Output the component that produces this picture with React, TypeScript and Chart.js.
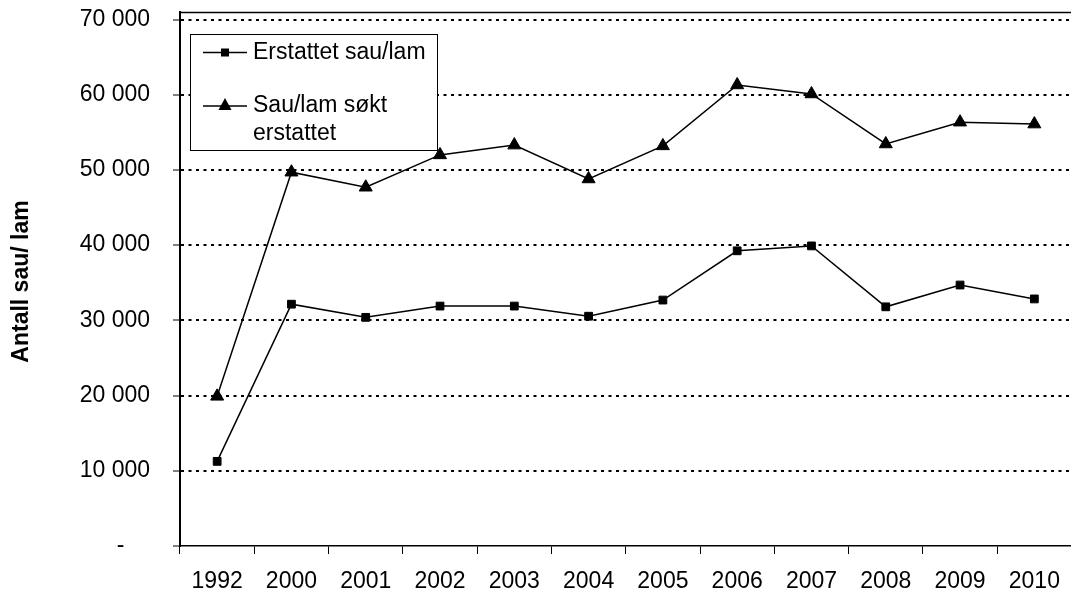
import React, { useEffect, useRef } from "react";
import { Chart, registerables } from "chart.js";

Chart.register(...registerables);

const years = ["1992", "2000", "2001", "2002", "2003", "2004", "2005", "2006", "2007", "2008", "2009", "2010"];
const erstattet = [11250, 32150, 30400, 31900, 31900, 30550, 32700, 39250, 39900, 31800, 34700, 32850];
const soktErstattet = [19900, 49700, 47700, 52000, 53300, 48800, 53200, 61300, 60100, 53450, 56350, 56100];
const seriesNames = ["Erstattet sau/lam", "Sau/lam søkt erstattet"];
const legendLines = [["Erstattet sau/lam"], ["Sau/lam søkt", "erstattet"]];
const yTickValues = [0, 10000, 20000, 30000, 40000, 50000, 60000, 70000];
const yTitle = "Antall sau/ lam";

const FONT = '"Liberation Sans", Arial, Helvetica, sans-serif';

function fmt(v: number): string {
  if (v === 0) return "-    ";
  return String(v).replace(/\B(?=(\d{3})+(?!\d))/g, " ");
}

function zeroPadding(s: any) {
  s.paddingTop = 0;
  s.paddingBottom = 0;
  s.paddingLeft = 0;
  s.paddingRight = 0;
}

const overlayPlugin = {
  id: "overlay",
  afterDraw(chart: any) {
    const ctx = chart.ctx;
    const area = chart.chartArea;
    ctx.save();
    // top frame line
    ctx.strokeStyle = "#000";
    ctx.lineWidth = 1.5;
    ctx.beginPath();
    ctx.moveTo(area.left, area.top + 0.5);
    ctx.lineTo(chart.width, area.top + 0.5);
    ctx.stroke();

    // y title
    ctx.save();
    ctx.translate(22, 281.5);
    ctx.rotate(-Math.PI / 2);
    ctx.font = `bold 23px ${FONT}`;
    ctx.fillStyle = "#000";
    ctx.textAlign = "center";
    ctx.textBaseline = "middle";
    ctx.fillText(yTitle, 0, 0);
    ctx.restore();

    // legend
    const bx = 190.5, by = 34.5, bw = 247, bh = 116;
    ctx.fillStyle = "#fff";
    ctx.fillRect(bx, by, bw, bh);
    ctx.strokeStyle = "#000";
    ctx.lineWidth = 1;
    ctx.strokeRect(bx, by, bw, bh);
    const rows = [52.5, 106];
    ctx.font = `23px ${FONT}`;
    ctx.textAlign = "left";
    ctx.textBaseline = "middle";
    rows.forEach((ry, i) => {
      ctx.strokeStyle = "#000";
      ctx.lineWidth = 1.5;
      ctx.beginPath();
      ctx.moveTo(203, ry);
      ctx.lineTo(247, ry);
      ctx.stroke();
      ctx.fillStyle = "#000";
      if (i === 0) {
        ctx.fillRect(221, ry - 4, 8, 8);
      } else {
        ctx.beginPath();
        ctx.moveTo(225, ry - 8);
        ctx.lineTo(231.5, ry + 4);
        ctx.lineTo(218.5, ry + 4);
        ctx.closePath();
        ctx.fill();
      }
      legendLines[i].forEach((t, j) => {
        ctx.fillText(t, 253, (i === 0 ? 52.5 : 106) + j * 28);
      });
    });
    ctx.restore();
  },
};

export default function App() {
  const ref = useRef<HTMLCanvasElement>(null);
  useEffect(() => {
    document.body.style.margin = "0";
    const chart = new Chart(ref.current!, {
      type: "line",
      data: {
        labels: years,
        datasets: [
          {
            label: seriesNames[0],
            data: erstattet,
            borderColor: "#000",
            backgroundColor: "#000",
            borderWidth: 1.5,
            pointStyle: "rect",
            pointRadius: 5.5,
            pointBorderWidth: 1,
            tension: 0,
          },
          {
            label: seriesNames[1],
            data: soktErstattet,
            borderColor: "#000",
            backgroundColor: "#000",
            borderWidth: 1.5,
            pointStyle: "triangle",
            pointRadius: 7.5,
            pointBorderWidth: 1,
            tension: 0,
          },
        ],
      },
      options: {
        animation: false,
        responsive: false,
        events: [],
        layout: { padding: { top: 12, right: 3, left: 0, bottom: 0 } },
        plugins: { legend: { display: false }, tooltip: { enabled: false } },
        scales: {
          x: {
            type: "category",
            offset: true,
            afterFit: (s: any) => { s.height = 48; zeroPadding(s); },
            grid: {
              offset: true,
              drawOnChartArea: false,
              drawTicks: true,
              tickLength: 8,
              color: "#000",
              tickColor: "#000",
              lineWidth: 1,
            },
            border: { display: true, color: "#000", width: 1.5 },
            ticks: {
              color: "#000",
              font: { family: FONT, size: 23 },
              padding: 14,
              maxRotation: 0,
              autoSkip: false,
            },
          },
          y: {
            type: "linear",
            min: 0,
            max: 71000,
            afterFit: (s: any) => { s.width = 180; zeroPadding(s); },
            afterBuildTicks: (s: any) => {
              s.ticks = yTickValues.map((v) => ({ value: v }));
            },
            grid: {
              color: (c: any) => (c.tick && c.tick.value === 0 ? "rgba(0,0,0,0)" : "#000"),
              tickColor: "#000",
              tickLength: 7,
              lineWidth: 2,
              tickWidth: 1,
              tickBorderDash: [],
            },
            border: { display: true, color: "#000", width: 2, dash: [3, 4.5] },
            ticks: {
              color: "#000",
              font: { family: FONT, size: 23 },
              padding: 23,
              callback: (v: any) => fmt(Number(v)),
            },
          },
        },
      },
      plugins: [overlayPlugin],
    });
    return () => chart.destroy();
  }, []);
  return (
    <div style={{ position: "absolute", left: 0, top: 0, width: 1071, height: 594, overflow: "hidden", background: "#fff" }}>
      <canvas ref={ref} width={1080} height={594} style={{ display: "block" }} />
    </div>
  );
}
